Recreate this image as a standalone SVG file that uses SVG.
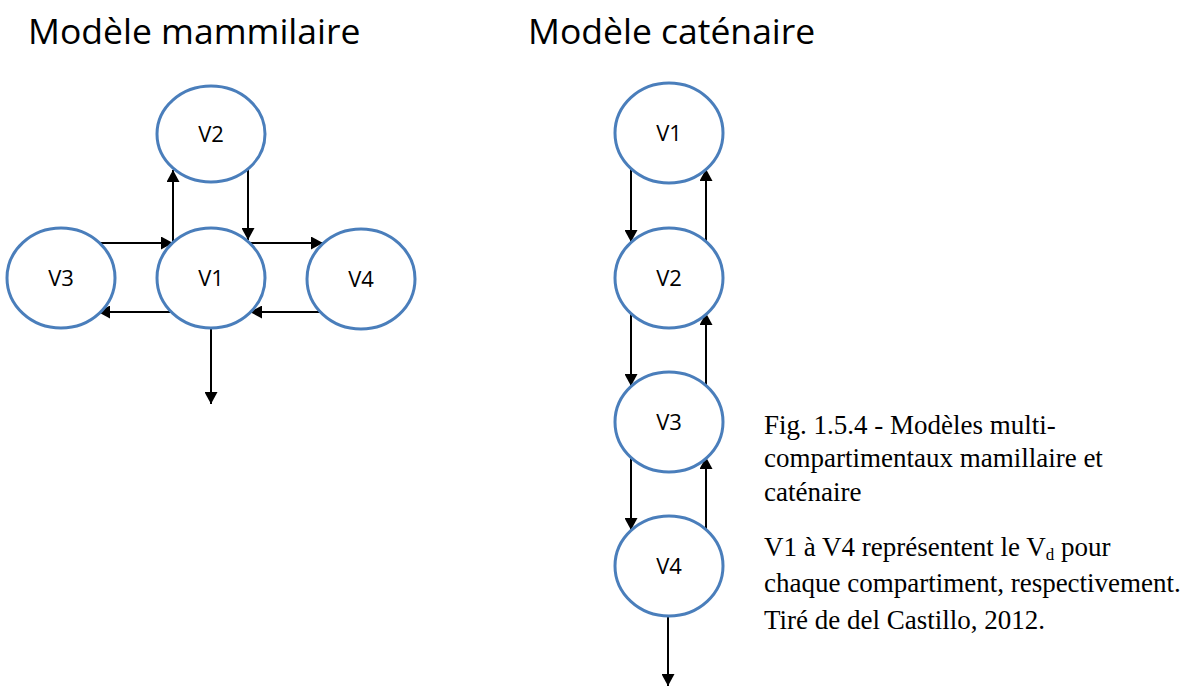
<svg xmlns="http://www.w3.org/2000/svg" width="1181" height="687" viewBox="0 0 1181 687">
<style>
.title{font-family:"Open Sans","Noto Sans",sans-serif;font-size:35.5px;fill:#000}
.node ellipse{fill:#fff;stroke:#4A7EBB;stroke-width:3}
.node text{font-family:"Open Sans","Noto Sans",sans-serif;font-size:22px;fill:#000;text-anchor:middle}
.conn line{stroke:#000;stroke-width:2;marker-end:url(#ah)}
.cap{font-family:"Liberation Serif","Times New Roman",serif;font-size:27px;fill:#000}
</style>
<defs>
<marker id="ah" markerUnits="userSpaceOnUse" markerWidth="13" markerHeight="13" refX="12" refY="6.5" orient="auto">
<path d="M0,0 L12,6.5 L0,13 z" fill="#000"/>
</marker>
</defs>
<rect width="1181" height="687" fill="#fff"/>
<text class="title" x="28" y="44">Modèle mammilaire</text>
<text class="title" x="528" y="44">Modèle caténaire</text>

<g id="connectors" class="conn">
<line x1="173" y1="243" x2="173" y2="170"/>
<line x1="248" y1="168" x2="248" y2="240"/>
<line x1="98" y1="243" x2="173" y2="243"/>
<line x1="248" y1="243" x2="323" y2="243"/>
<line x1="173" y1="312" x2="98" y2="312"/>
<line x1="325" y1="312" x2="250" y2="312"/>
<line x1="211" y1="328" x2="211" y2="404"/>

<line x1="631" y1="168" x2="631" y2="242"/>
<line x1="706" y1="243" x2="706" y2="169"/>
<line x1="631" y1="313" x2="631" y2="386"/>
<line x1="706" y1="387" x2="706" y2="313"/>
<line x1="631" y1="457" x2="631" y2="530"/>
<line x1="706" y1="530" x2="706" y2="457"/>
<line x1="668" y1="617" x2="668" y2="686"/>
</g>

<g id="m-v2" class="node"><ellipse cx="211" cy="134" rx="54" ry="48"/><text x="211" y="142">V2</text></g>
<g id="m-v1" class="node"><ellipse cx="211" cy="278" rx="54" ry="50"/><text x="211" y="286">V1</text></g>
<g id="m-v3" class="node"><ellipse cx="61" cy="278" rx="54" ry="50"/><text x="61" y="286">V3</text></g>
<g id="m-v4" class="node"><ellipse cx="361" cy="279" rx="54" ry="50"/><text x="361" y="287">V4</text></g>

<g id="c-v1" class="node"><ellipse cx="669" cy="133" rx="54" ry="50"/><text x="669" y="141">V1</text></g>
<g id="c-v2" class="node"><ellipse cx="669" cy="278" rx="54" ry="50"/><text x="669" y="286">V2</text></g>
<g id="c-v3" class="node"><ellipse cx="669" cy="422" rx="54" ry="50"/><text x="669" y="430">V3</text></g>
<g id="c-v4" class="node"><ellipse cx="669" cy="566" rx="54" ry="50"/><text x="669" y="574">V4</text></g>

<g id="caption">
<text class="cap" x="764" y="434">Fig. 1.5.4 - Modèles multi-</text>
<text class="cap" x="764" y="467">compartimentaux mamillaire et</text>
<text class="cap" x="764" y="501">caténaire</text>
<text class="cap" x="764" y="556">V1 à V4 représentent le V<tspan font-size="17" dy="4">d</tspan><tspan dy="-4"> pour</tspan></text>
<text class="cap" x="764" y="592">chaque compartiment, respectivement.</text>
<text class="cap" x="764" y="629">Tiré de del Castillo, 2012.</text>
</g>
</svg>
